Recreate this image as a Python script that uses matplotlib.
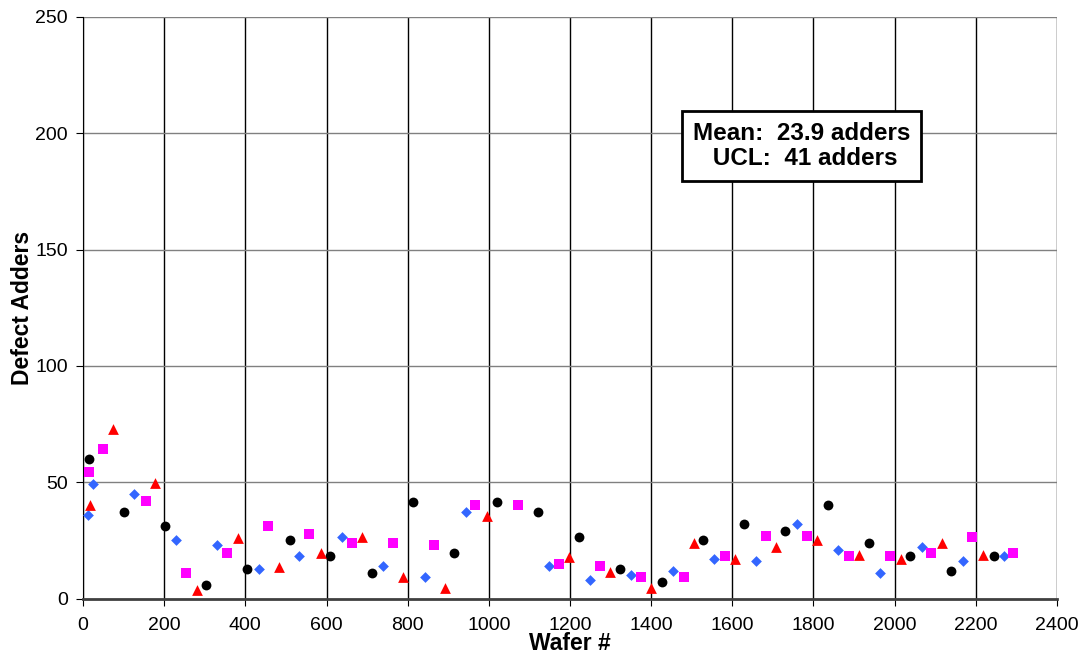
import matplotlib
matplotlib.use('Agg')
import matplotlib.pyplot as plt

plt.rcParams['font.family'] = ['Liberation Sans', 'DejaVu Sans']

# black circles
x_czarne = [15, 100, 202, 303, 405, 509, 608, 712, 813, 914, 1019, 1120, 1222, 1323,
            1427, 1528, 1629, 1731, 1836, 1937, 2038, 2140, 2244]
y_czarne = [60.2, 37.2, 31.2, 6.0, 12.9, 25.3, 18.4, 11.2, 41.4, 19.8, 41.4, 37.1, 26.5, 12.9,
            7.2, 25.3, 32.3, 29.1, 40.4, 24.1, 18.4, 11.9, 18.3]

# blue diamonds
x_niebieskie = [12, 24, 126, 230, 331, 433, 533, 638, 740, 842, 943, 1148, 1250, 1351,
                1453, 1556, 1658, 1759, 1861, 1964, 2067, 2168, 2269]
y_niebieskie = [35.9, 49.4, 45.1, 25.2, 23.0, 12.8, 18.3, 26.5, 14.0, 9.1, 37.1, 14.1, 8.1, 10.2,
                11.8, 17.1, 16.1, 32.2, 20.9, 11.2, 22.0, 16.1, 18.3]

# magenta squares
x_rozowe = [15, 49, 154, 254, 356, 457, 558, 662, 764, 865, 966, 1071, 1172, 1274,
            1375, 1480, 1581, 1682, 1783, 1888, 1989, 2090, 2192, 2293]
y_rozowe = [54.3, 64.5, 42.0, 11.2, 19.8, 31.2, 27.9, 24.1, 24.1, 23.1, 40.4, 40.3, 15.1, 14.0,
            9.1, 9.1, 18.3, 27.0, 27.0, 18.3, 18.3, 19.8, 26.5, 19.8]

# red triangles
x_czerwone = [16, 73, 178, 280, 381, 482, 587, 688, 789, 891, 995, 1198, 1298, 1400,
              1505, 1606, 1707, 1808, 1913, 2015, 2116, 2217]
y_czerwone = [40.1, 73.0, 49.9, 3.6, 26.2, 13.8, 19.6, 26.3, 9.1, 4.7, 35.6, 18.1, 11.6, 4.5,
              24.0, 17.0, 22.0, 25.0, 18.7, 17.0, 24.0, 18.7]

fig = plt.figure(figsize=(10.84, 6.61), dpi=100)
ax = fig.add_axes([0.0766, 0.0943, 0.8984, 0.8800])

# siatka
for xv in range(0, 2401, 200):
    ax.axvline(xv, color='black', linewidth=1.0, zorder=1)
for yv in range(50, 251, 50):
    ax.axhline(yv, color='#808080', linewidth=1.0, zorder=1)

ax.scatter(x_czarne, y_czarne, marker='o', s=50, color='black', zorder=3, linewidths=0)
ax.scatter(x_niebieskie, y_niebieskie, marker='D', s=30, color='#3366FF', zorder=3, linewidths=0)
ax.scatter(x_rozowe, y_rozowe, marker='s', s=44, color='#FF00FF', zorder=3, linewidths=0)
ax.scatter(x_czerwone, y_czerwone, marker='^', s=60, color='#FF0000', zorder=3, linewidths=0)

ax.set_xlim(0, 2400)
ax.set_ylim(0, 250)
ax.set_xticks(range(0, 2401, 200))
ax.set_yticks(range(0, 251, 50))
ax.tick_params(direction='out', length=5, labelsize=14, colors='black')
ax.tick_params(axis='x', pad=8)
ax.tick_params(axis='y', pad=6)

ax.spines['top'].set_visible(False)
ax.spines['right'].set_visible(False)
ax.spines['left'].set_color('black')
ax.spines['bottom'].set_color('#404040')
ax.spines['bottom'].set_linewidth(2)

ax.set_xlabel('Wafer #', fontsize=16.5, fontweight='bold', labelpad=-1)
ax.set_ylabel('Defect Adders', fontsize=16.5, fontweight='bold', labelpad=1)

ax.text(0.738, 0.778, 'Mean:  23.9 adders\n UCL:  41 adders', transform=ax.transAxes,
        ha='center', va='center', fontsize=17.5, fontweight='bold', linespacing=1.12,
        bbox=dict(boxstyle='square,pad=0.45', facecolor='white', edgecolor='black', linewidth=2),
        zorder=5)

fig.savefig('out.png', dpi=100)
